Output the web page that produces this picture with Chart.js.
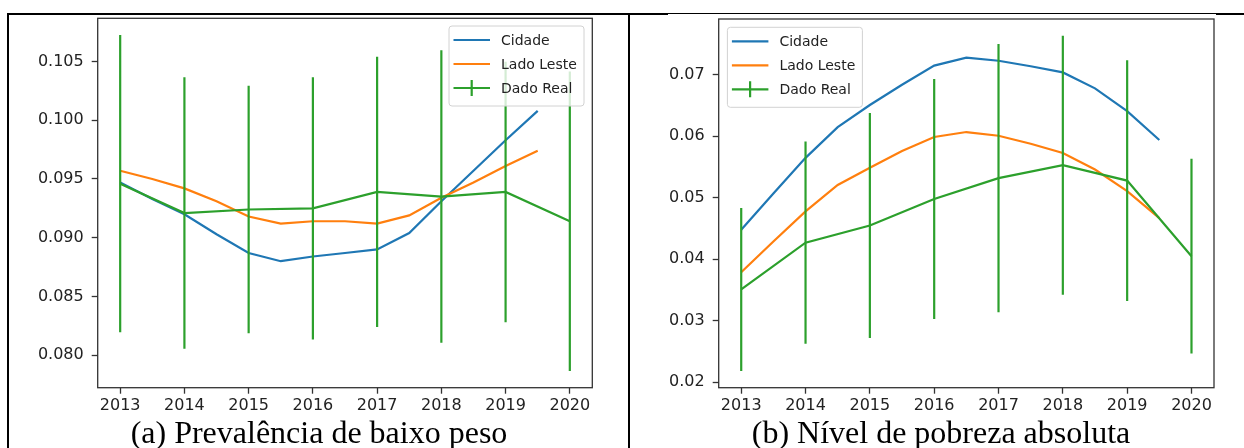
<!DOCTYPE html>
<html><head><meta charset="utf-8">
<script src="https://cdn.jsdelivr.net/npm/chart.js@4.4.0/dist/chart.umd.min.js"></script>
<style>
html,body{margin:0;padding:0;background:#fff;}
body{width:1244px;height:448px;overflow:hidden;position:relative;}
canvas{position:absolute;top:0;}
.ln{position:absolute;background:#000;}
.cap{position:absolute;font-family:"Liberation Serif","Times New Roman",serif;font-size:32px;white-space:nowrap;color:#000;line-height:1;transform:translateX(-50%);}
</style></head>
<body>
<div class="ln" style="left:7px;top:13px;width:661px;height:2px"></div>
<div class="ln" style="left:668px;top:13px;width:548px;height:1px"></div>
<div class="ln" style="left:1216px;top:13px;width:28px;height:2px"></div>
<div class="ln" style="left:7px;top:13px;width:2px;height:435px"></div>
<div class="ln" style="left:628px;top:13px;width:2px;height:435px"></div>
<canvas id="cA" width="620" height="420" style="left:0px"></canvas>
<canvas id="cB" width="624" height="420" style="left:620px"></canvas>
<div class="cap" style="left:319px;top:416px">(a) Prevalência de baixo peso</div>
<div class="cap" style="left:941px;top:416px">(b) Nível de pobreza absoluta</div>
<script>
// ---- data ----
const modelYears = [2013, 2013.5, 2014, 2014.5, 2015, 2015.5, 2016, 2016.5, 2017, 2017.5, 2018, 2018.5, 2019, 2019.5];
const realYears = [2013, 2014, 2015, 2016, 2017, 2018, 2019, 2020];
const xTicks = [2013, 2014, 2015, 2016, 2017, 2018, 2019, 2020];
const legendLabels = ['Cidade', 'Lado Leste', 'Dado Real'];

// (a) Prevalência de baixo peso
const cidadeA = [0.0947, 0.0933, 0.0920, 0.0903, 0.0887, 0.0880, 0.0884, 0.0887, 0.0890, 0.0904, 0.0931, 0.0957, 0.0983, 0.1008];
const ladoA = [0.0957, 0.0950, 0.0942, 0.0931, 0.0918, 0.0912, 0.0914, 0.0914, 0.0912, 0.0919, 0.0934, 0.0947, 0.0961, 0.0974];
const realA = [0.0946, 0.0921, 0.0924, 0.0925, 0.0939, 0.0935, 0.0939, 0.0914];
const errA = [0.01265, 0.01156, 0.01054, 0.01116, 0.0115, 0.01245, 0.01109, 0.01274];
const yTicksA = [0.080, 0.085, 0.090, 0.095, 0.100, 0.105];
const yLabelsA = ['0.080', '0.085', '0.090', '0.095', '0.100', '0.105'];

// (b) Nível de pobreza absoluta
const cidadeB = [0.0448, 0.0507, 0.0565, 0.0615, 0.0651, 0.0684, 0.0715, 0.0728, 0.0723, 0.0714, 0.0704, 0.0678, 0.0641, 0.0594];
const ladoB = [0.0379, 0.0429, 0.0478, 0.0521, 0.0549, 0.0576, 0.0599, 0.0607, 0.0601, 0.0588, 0.0573, 0.0546, 0.0511, 0.0467];
const realB = [0.0351, 0.0427, 0.0455, 0.0498, 0.0532, 0.0553, 0.0528, 0.0405];
const errB = [0.01326, 0.01645, 0.01829, 0.01951, 0.0218, 0.02106, 0.01957, 0.01584];
const yTicksB = [0.02, 0.03, 0.04, 0.05, 0.06, 0.07];
const yLabelsB = ['0.02', '0.03', '0.04', '0.05', '0.06', '0.07'];

// ---- style ----
const BLUE = '#1f77b4', ORANGE = '#ff7f0e', GREEN = '#2ca02c';
Chart.defaults.font.family = '"DejaVu Sans", sans-serif';

const frameLegend = {
  id: 'frameLegend',
  afterDatasetsDraw(chart, args, o) {
    const {ctx, chartArea: a} = chart;
    ctx.save();
    ctx.strokeStyle = '#333';
    ctx.lineWidth = 1.3;
    ctx.strokeRect(a.left, a.top, a.right - a.left, a.bottom - a.top);
    const w = 135, h = 80;
    const bx = o.side === 'right' ? a.right - o.dx - w : a.left + o.dx;
    const by = a.top + o.dy;
    ctx.beginPath();
    ctx.roundRect(bx, by, w, h, 3);
    ctx.fillStyle = 'rgba(255,255,255,0.8)';
    ctx.fill();
    ctx.strokeStyle = '#d2d2d2';
    ctx.lineWidth = 1;
    ctx.stroke();
    const colors = [BLUE, ORANGE, GREEN];
    const rows = [14, 38, 62];
    ctx.font = '14px "DejaVu Sans", sans-serif';
    ctx.textBaseline = 'middle';
    ctx.textAlign = 'left';
    legendLabels.forEach((lab, i) => {
      const yy = by + rows[i];
      ctx.strokeStyle = colors[i];
      ctx.lineWidth = 2.2;
      ctx.beginPath();
      ctx.moveTo(bx + 4.5, yy); ctx.lineTo(bx + 41, yy);
      if (i === 2) { ctx.moveTo(bx + 22.7, yy - 8); ctx.lineTo(bx + 22.7, yy + 8); }
      ctx.stroke();
      ctx.fillStyle = '#222';
      ctx.fillText(lab, bx + 52, yy + 1);
    });
    ctx.restore();
  }
};

function pts(xs, ys) { return xs.map((x, i) => ({x: x, y: ys[i]})); }
function errPts(xs, ys, es) {
  const out = [];
  xs.forEach((x, i) => {
    out.push({x: x, y: ys[i] - es[i]}, {x: x, y: ys[i] + es[i]}, {x: x, y: null});
  });
  return out;
}
function limits(series, real, err) {
  let lo = Infinity, hi = -Infinity;
  series.forEach(s => s.forEach(v => { lo = Math.min(lo, v); hi = Math.max(hi, v); }));
  real.forEach((v, i) => { lo = Math.min(lo, v - err[i]); hi = Math.max(hi, v + err[i]); });
  const m = (hi - lo) * 0.05;
  return [lo - m, hi + m];
}

function makeChart(id, c) {
  const [ymin, ymax] = limits([c.cidade, c.lado], c.real, c.err);
  const lineDs = (label, data, color, order) => ({
    label, data, borderColor: color, backgroundColor: color, borderWidth: 2.2,
    pointRadius: 0, pointHoverRadius: 0, tension: 0, fill: false, order,
    borderCapStyle: 'butt', spanGaps: false
  });
  return new Chart(document.getElementById(id), {
    type: 'line',
    data: {datasets: [
      lineDs('Dado Real', pts(realYears, c.real), GREEN, 1),
      lineDs('Dado Real (erro)', errPts(realYears, c.real, c.err), GREEN, 1),
      lineDs('Lado Leste', pts(modelYears, c.lado), ORANGE, 2),
      lineDs('Cidade', pts(modelYears, c.cidade), BLUE, 3)
    ]},
    options: {
      responsive: false, animation: false, parsing: true,
      layout: {padding: {top: c.padTop, right: c.padRight, left: 0, bottom: 0}},
      plugins: {legend: {display: false}, tooltip: {enabled: false}, frameLegend: c.legend},
      events: [],
      scales: {
        x: {
          type: 'linear', min: 2012.65, max: 2020.35,
          afterBuildTicks: s => { s.ticks = xTicks.map(v => ({value: v})); },
          afterFit: s => { s.height = c.xAxisH; },
          ticks: {callback: v => String(v), color: '#222', font: {size: 16}, padding: 3, maxRotation: 0, autoSkip: false},
          grid: {drawOnChartArea: false, drawTicks: true, tickLength: 6, tickColor: '#333', tickWidth: 1.3},
          border: {display: false}
        },
        y: {
          type: 'linear', min: ymin, max: ymax,
          afterBuildTicks: s => { s.ticks = c.yTicks.map(v => ({value: v})); },
          afterFit: s => { s.width = c.yAxisW; },
          ticks: {callback: (v, i) => c.yLabels[i], color: '#222', font: {size: 16}, padding: 8, autoSkip: false},
          grid: {drawOnChartArea: false, drawTicks: true, tickLength: 6, tickColor: '#333', tickWidth: 1.3},
          border: {display: false}
        }
      }
    },
    plugins: [frameLegend]
  });
}

makeChart('cA', {cidade: cidadeA, lado: ladoA, real: realA, err: errA, yTicks: yTicksA, yLabels: yLabelsA,
  padTop: 18.3, padRight: 27.7, yAxisW: 97.7, xAxisH: 32.3, legend: {side: 'right', dx: 8.3, dy: 7.7}});
makeChart('cB', {cidade: cidadeB, lado: ladoB, real: realB, err: errB, yTicks: yTicksB, yLabels: yLabelsB,
  padTop: 19, padRight: 30, yAxisW: 98.7, xAxisH: 32.3, legend: {side: 'left', dx: 8.7, dy: 8.3}});
</script>
</body></html>
